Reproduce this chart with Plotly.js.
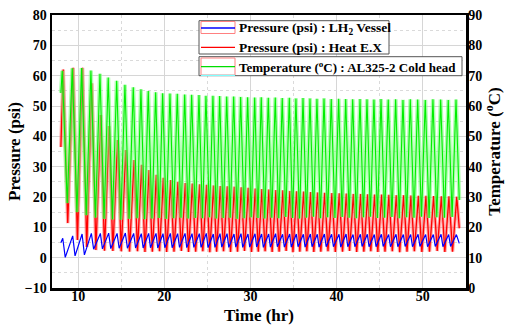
<!DOCTYPE html>
<html>
<head>
<meta charset="utf-8">
<script src="https://cdn.plot.ly/plotly-3.0.1.min.js"></script>
<style>html,body{margin:0;padding:0;background:#fff;}#chart{width:513px;height:326px;}</style>
</head>
<body>
<div id="chart"></div>
<script>
// Time (hr) of each temperature peak
const cycleTime = [8.14, 9.30, 10.39, 11.47, 12.52, 13.48, 14.46, 15.42, 16.39, 17.28, 18.13, 18.99, 19.80, 20.65, 21.50, 22.36, 23.17, 24.02, 24.83, 25.64, 26.42, 27.24, 28.05, 28.86, 29.67, 30.49, 31.25, 32.07, 32.88, 33.69, 34.51, 35.28, 36.10, 36.91, 37.72, 38.54, 39.38, 40.24, 41.06, 41.87, 42.72, 43.53, 44.34, 45.16, 46.00, 46.86, 47.71, 48.56, 49.42, 50.30, 51.19, 52.09, 52.97, 53.87];
const startTime = 7.98;
const endTime = 54.25;

// Temperature (°C) : AL325-2 Cold head
const tempStart = 64.3;
const tempPeak = [71.6, 72.4, 72.5, 71.7, 70.6, 69.4, 68.3, 67.0, 66.2, 65.5, 64.9, 64.5, 64.2, 64.1, 64.0, 63.8, 63.7, 63.6, 63.4, 63.4, 63.3, 63.1, 63.1, 63.0, 62.9, 62.8, 62.9, 62.7, 62.8, 62.6, 62.7, 62.5, 62.6, 62.5, 62.4, 62.5, 62.3, 62.4, 62.3, 62.2, 62.3, 62.2, 62.1, 62.3, 62.1, 62.2, 62.0, 62.2, 62.1, 62.0, 62.2, 62.1, 62.0, 62.1];
const tempTrough = [28.0, 25.0, 24.0, 23.2, 22.8, 22.6, 22.5, 22.8, 23.0, 22.7, 22.9, 23.1, 22.8, 23.0, 23.2, 22.9, 23.1, 23.0, 23.3, 22.9, 23.1, 23.2, 22.8, 23.0, 23.3, 23.1, 22.9, 23.2, 23.0, 23.4, 23.1, 22.9, 23.2, 23.5, 23.0, 23.3, 23.1, 23.4, 23.2, 23.0, 23.3, 23.5, 23.1, 23.2, 23.4, 23.0, 23.3, 23.2, 23.5, 23.1, 23.3, 23.2, 23.4];
const tempEnd = 29.0;

// Pressure (psi) : Heat E.X
const heatStart = 36.5;
const heatPeak = [62.0, 62.6, 62.6, 57.5, 47.0, 43.4, 38.8, 35.5, 32.2, 30.6, 28.9, 27.3, 26.3, 25.6, 25.0, 24.6, 24.4, 24.2, 24.0, 23.8, 23.6, 23.5, 23.4, 23.2, 23.0, 22.8, 22.6, 22.5, 22.3, 22.2, 22.0, 21.9, 21.8, 21.6, 21.5, 21.4, 21.3, 21.2, 21.1, 21.0, 21.0, 20.9, 20.8, 20.8, 20.7, 20.6, 20.6, 20.5, 20.4, 20.4, 20.3, 20.2, 20.2, 20.1];
const heatTrough = [11.4, 5.8, 3.5, 2.5, 2.3, 2.2, 2.1, 2.0, 2.1, 1.9, 2.0, 2.1, 1.9, 2.0, 2.2, 1.9, 2.0, 2.1, 1.8, 2.0, 2.1, 1.9, 2.0, 2.2, 1.9, 2.0, 2.1, 1.9, 2.0, 2.2, 1.8, 2.0, 2.1, 1.9, 2.0, 2.1, 1.9, 2.0, 2.2, 1.9, 2.0, 2.1, 1.9, 2.0, 2.1, 1.8, 2.0, 2.1, 1.9, 2.0, 2.2, 1.9, 2.0];
const heatEnd = 9.7;

// Pressure (psi) : LH2 Vessel
const vesselStart = 4.9;
const vesselPeak = [6.4, 7.2, 7.8, 8.0, 8.0, 8.1, 8.0, 8.1, 8.0, 7.9, 8.0, 8.0, 7.9, 8.0, 7.9, 8.0, 7.9, 7.9, 8.0, 7.8, 7.9, 7.9, 7.8, 7.9, 7.8, 7.9, 7.8, 7.8, 7.9, 7.7, 7.8, 7.8, 7.7, 7.8, 7.7, 7.8, 7.7, 7.7, 7.8, 7.6, 7.7, 7.7, 7.6, 7.7, 7.6, 7.7, 7.6, 7.6, 7.7, 7.6, 7.6, 7.7, 7.6, 7.6];
const vesselTrough = [0.1, 0.6, 0.9, 2.8, 2.9, 3.0, 3.1, 3.1, 3.2, 3.2, 3.3, 3.2, 3.3, 3.3, 3.4, 3.3, 3.4, 3.4, 3.3, 3.4, 3.5, 3.4, 3.5, 3.4, 3.5, 3.5, 3.4, 3.5, 3.6, 3.5, 3.5, 3.6, 3.5, 3.6, 3.5, 3.6, 3.6, 3.5, 3.6, 3.6, 3.7, 3.6, 3.6, 3.7, 3.6, 3.6, 3.7, 3.6, 3.7, 3.6, 3.7, 3.6, 3.7];
const vesselEnd = 4.7;

const xTicks = [10, 20, 30, 40, 50];
const seriesNames = ['Pressure (psi) : LH<sub>2</sub> Vessel', 'Pressure (psi) : Heat E.X', 'Temperature (<sup>o</sup>C) : AL325-2 Cold head'];

// Build polyline: start, peak0, trough0, peak1, ..., lastPeak, end
function series(v0, peaks, troughs, vEnd, peakShift, troughFrac) {
  const x = [startTime], y = [v0];
  for (let i = 0; i < cycleTime.length; i++) {
    const per = i < cycleTime.length - 1 ? cycleTime[i + 1] - cycleTime[i] : cycleTime[i] - cycleTime[i - 1];
    x.push(cycleTime[i] + peakShift * per); y.push(peaks[i]);
    if (i < troughs.length) { x.push(cycleTime[i] + troughFrac * per); y.push(troughs[i]); }
  }
  x.push(endTime); y.push(vEnd);
  return {x, y};
}

const T = series(tempStart, tempPeak, tempTrough, tempEnd, 0, 0.5);
const H = series(heatStart, heatPeak, heatTrough, heatEnd, 0.1, 0.55);
const V = series(vesselStart, vesselPeak, vesselTrough, vesselEnd, 0.05, 0.3);

const serif = 'Liberation Serif, Times New Roman, serif';

const traces = [
  {x: T.x, y: T.y, yaxis: 'y2', mode: 'lines', line: {color: 'rgba(120,255,120,0.6)', width: 4}, showlegend: false, hoverinfo: 'skip'},
  {x: T.x, y: T.y, yaxis: 'y2', mode: 'lines', line: {color: '#00ee00', width: 1.1}, name: seriesNames[2], showlegend: false},
  {x: H.x, y: H.y, mode: 'lines', line: {color: 'rgba(255,110,110,0.6)', width: 3.5}, showlegend: false, hoverinfo: 'skip'},
  {x: H.x, y: H.y, mode: 'lines', line: {color: '#ff0000', width: 1.3}, name: seriesNames[1], showlegend: false},
  {x: V.x, y: V.y, mode: 'lines', line: {color: '#0000ff', width: 1.2}, name: seriesNames[0], showlegend: false}
];

// Legend drawn as boxes + sample lines + text (pixel layout of the plot area)
const PL = 52, PR = 466, PT = 15, PB = 288;
const px = v => (v - PL) / (PR - PL);
const py = v => (PB - v) / (PB - PT);

const shapes = [
  {type: 'rect', xref: 'paper', yref: 'paper', x0: px(199), x1: px(389), y0: py(54), y1: py(20.7), line: {color: '#555', width: 1}, fillcolor: '#fff', layer: 'above'},
  {type: 'rect', xref: 'paper', yref: 'paper', x0: px(199), x1: px(462), y0: py(75.7), y1: py(56.7), line: {color: '#555', width: 1}, fillcolor: '#fff', layer: 'above'},
  {type: 'rect', xref: 'paper', yref: 'paper', x0: px(201), x1: px(235), y0: py(33.5), y1: py(21.5), line: {color: '#ff8080', width: 1}, layer: 'above'},
  {type: 'line', xref: 'paper', yref: 'paper', x0: px(201), x1: px(235), y0: py(28), y1: py(28), line: {color: '#0000ff', width: 1.3}, layer: 'above'},
  {type: 'line', xref: 'paper', yref: 'paper', x0: px(201), x1: px(235), y0: py(47.3), y1: py(47.3), line: {color: '#ff0000', width: 1.3}, layer: 'above'},
  {type: 'rect', xref: 'paper', yref: 'paper', x0: px(201), x1: px(235), y0: py(75), y1: py(58), line: {color: '#ff8080', width: 1}, layer: 'above'},
  {type: 'line', xref: 'paper', yref: 'paper', x0: px(201), x1: px(235), y0: py(66.7), y1: py(66.7), line: {color: '#00dd00', width: 1.3}, layer: 'above'},
  {type: 'line', xref: 'paper', yref: 'paper', x0: px(201), x1: px(235), y0: py(75.3), y1: py(75.3), line: {color: '#80ffff', width: 1.2}, layer: 'above'}
];

const legFont = {family: serif, size: 13.5, color: '#000', weight: 'bold'};
const annotations = [
  {xref: 'paper', yref: 'paper', x: px(237), y: py(28), xanchor: 'left', yanchor: 'middle', showarrow: false, text: seriesNames[0], font: legFont},
  {xref: 'paper', yref: 'paper', x: px(237), y: py(47.3), xanchor: 'left', yanchor: 'middle', showarrow: false, text: seriesNames[1], font: legFont},
  {xref: 'paper', yref: 'paper', x: px(237), y: py(66.7), xanchor: 'left', yanchor: 'middle', showarrow: false, text: seriesNames[2], font: {family: serif, size: 13, color: '#000', weight: 'bold'}}
];

const tickFont = {family: serif, size: 14, color: '#000', weight: 'bold'};
const titleFont = {family: serif, size: 17, color: '#000', weight: 'bold'};

const layout = {
  width: 513, height: 326,
  margin: {l: 52, r: 47, t: 15, b: 38},
  paper_bgcolor: '#fff', plot_bgcolor: '#fff',
  font: {family: serif, color: '#000'},
  showlegend: false,
  xaxis: {
    range: [6.95, 55.03], tickvals: xTicks, ticks: '', ticklabelstandoff: -6,
    showgrid: true, gridcolor: '#d6d6d6', gridwidth: 1,
    minor: {dtick: 5, tick0: 0, showgrid: true, gridcolor: '#dadada', griddash: 'dot', ticks: ''},
    showline: true, linecolor: '#000', linewidth: 2.5, mirror: true, zeroline: false,
    tickfont: tickFont, title: {text: 'Time (hr)', font: titleFont, standoff: 6}
  },
  yaxis: {
    range: [-10, 80], dtick: 10, tick0: 0, ticks: '',
    showgrid: true, gridcolor: '#d6d6d6', gridwidth: 1,
    minor: {dtick: 5, tick0: 0, showgrid: true, gridcolor: '#dadada', griddash: 'dot', ticks: ''},
    showline: true, linecolor: '#000', linewidth: 2.5, mirror: true, zeroline: false,
    tickfont: tickFont, title: {text: 'Pressure (psi)', font: titleFont, standoff: 0}
  },
  yaxis2: {
    overlaying: 'y', side: 'right', range: [0, 90], dtick: 10, tick0: 0, ticks: '', ticklabelstandoff: -3,
    showgrid: false, zeroline: false, showline: true, linecolor: '#000', linewidth: 2.5,
    tickfont: tickFont, title: {text: 'Temperature (<sup>o</sup>C)', font: titleFont, standoff: 5}
  },
  shapes: shapes,
  annotations: annotations
};

Plotly.newPlot('chart', traces, layout, {displayModeBar: false, staticPlot: true});
</script>
</body>
</html>
